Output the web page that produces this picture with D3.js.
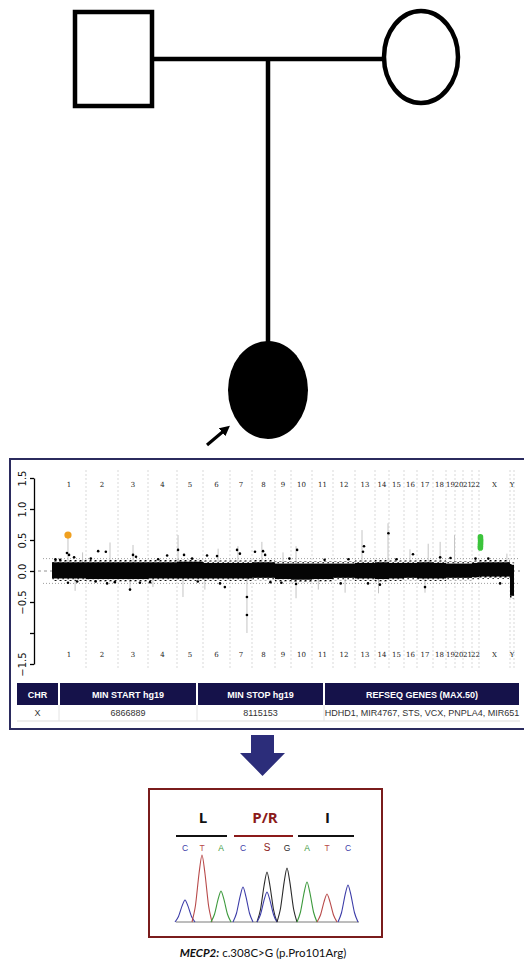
<!DOCTYPE html>
<html>
<head>
<meta charset="utf-8">
<script src="https://cdn.jsdelivr.net/npm/d3@7"></script>
<style>
  body { margin: 0; background: #fff; }
</style>
</head>
<body>
<div id="chart"></div>
<script>
// ---- CNV plot data ----
const chromNames = ["1","2","3","4","5","6","7","8","9","10","11","12","13","14","15","16","17","18","19","20","21","22","X","Y"];
// relative track width of each chromosome in the plot
const chromSpan = [34,32,30,29,26,27,22,23,16,21,21,22,20,14,15,13,16,13,9,8,9,7,31,4];
// dense probe band, upper / lower edge per chromosome (log2 ratio)
const bandHi = [0.14,0.14,0.14,0.14,0.15,0.13,0.13,0.14,0.12,0.12,0.12,0.12,0.13,0.14,0.13,0.13,0.14,0.13,0.12,0.12,0.12,0.13,0.14,0.10];
const bandLo = [-0.12,-0.13,-0.13,-0.12,-0.12,-0.12,-0.12,-0.11,-0.13,-0.14,-0.13,-0.11,-0.12,-0.13,-0.12,-0.11,-0.12,-0.12,-0.11,-0.11,-0.11,-0.10,-0.09,-0.40];
// single probes outside the band: chromosome, position in chromosome (0..1), value
const outliers = [
  {chr:"1", pos:0.24, v:0.18}, {chr:"1", pos:0.44, v:0.29}, {chr:"1", pos:0.50, v:0.26}, {chr:"1", pos:0.65, v:0.22},
  {chr:"1", pos:0.47, v:-0.19}, {chr:"1", pos:0.74, v:-0.17}, {chr:"1", pos:0.10, v:0.19},
  {chr:"2", pos:0.38, v:0.32}, {chr:"2", pos:0.62, v:0.31}, {chr:"2", pos:0.66, v:-0.20}, {chr:"2", pos:0.90, v:-0.18},
  {chr:"2", pos:0.15, v:0.20}, {chr:"2", pos:0.30, v:-0.17},
  {chr:"3", pos:0.50, v:0.26}, {chr:"3", pos:0.60, v:0.23}, {chr:"3", pos:0.40, v:-0.30}, {chr:"3", pos:0.73, v:-0.19},
  {chr:"4", pos:0.66, v:0.25}, {chr:"4", pos:0.07, v:-0.18}, {chr:"4", pos:0.35, v:0.19},
  {chr:"5", pos:0.04, v:0.34}, {chr:"5", pos:0.27, v:0.26}, {chr:"5", pos:0.58, v:0.20}, {chr:"5", pos:0.80, v:-0.17},
  {chr:"6", pos:0.15, v:0.25}, {chr:"6", pos:0.52, v:0.24}, {chr:"6", pos:0.63, v:-0.20}, {chr:"6", pos:0.81, v:-0.26},
  {chr:"7", pos:0.32, v:0.34}, {chr:"7", pos:0.45, v:0.28}, {chr:"7", pos:0.77, v:-0.42}, {chr:"7", pos:0.77, v:-0.71},
  {chr:"8", pos:0.13, v:0.31}, {chr:"8", pos:0.48, v:0.32}, {chr:"8", pos:0.57, v:0.26}, {chr:"8", pos:0.80, v:-0.18},
  {chr:"9", pos:0.90, v:0.20}, {chr:"9", pos:0.40, v:-0.19},
  {chr:"10", pos:0.29, v:0.34}, {chr:"10", pos:0.24, v:-0.21}, {chr:"11", pos:0.60, v:0.18},
  {chr:"12", pos:0.35, v:-0.20}, {chr:"12", pos:0.70, v:0.19},
  {chr:"13", pos:0.45, v:0.40}, {chr:"13", pos:0.40, v:0.31}, {chr:"13", pos:0.65, v:-0.20},
  {chr:"14", pos:0.96, v:0.61}, {chr:"14", pos:0.35, v:-0.22}, {chr:"15", pos:0.50, v:0.19},
  {chr:"16", pos:0.69, v:0.27}, {chr:"17", pos:0.50, v:-0.26}, {chr:"18", pos:0.55, v:0.22},
  {chr:"19", pos:0.50, v:0.21}, {chr:"22", pos:0.50, v:0.20},
  {chr:"X", pos:0.30, v:0.20}, {chr:"X", pos:0.68, v:-0.20}
];
// light grey spread bars: chromosome, position, low / high value
const spreadBars = [
  {chr:"1", pos:0.47, lo:0.12, hi:0.62}, {chr:"1", pos:0.68, lo:-0.32, hi:-0.10}, {chr:"1", pos:0.90, lo:0.10, hi:0.30},
  {chr:"2", pos:0.75, lo:0.10, hi:0.46}, {chr:"3", pos:0.50, lo:0.10, hi:0.42}, {chr:"3", pos:0.40, lo:-0.32, hi:-0.10},
  {chr:"4", pos:0.17, lo:-0.26, hi:-0.10}, {chr:"5", pos:0.04, lo:0.10, hi:0.58}, {chr:"5", pos:0.23, lo:-0.42, hi:-0.10},
  {chr:"6", pos:0.07, lo:-0.30, hi:-0.10}, {chr:"6", pos:0.56, lo:0.10, hi:0.36}, {chr:"7", pos:0.36, lo:0.10, hi:0.40},
  {chr:"7", pos:0.77, lo:-1.00, hi:-0.10}, {chr:"8", pos:0.43, lo:0.10, hi:0.47}, {chr:"9", pos:0.50, lo:0.10, hi:0.30},
  {chr:"10", pos:0.24, lo:0.10, hi:0.40}, {chr:"10", pos:0.24, lo:-0.44, hi:-0.10}, {chr:"11", pos:0.30, lo:-0.30, hi:-0.10},
  {chr:"12", pos:0.55, lo:-0.35, hi:-0.10}, {chr:"13", pos:0.35, lo:0.10, hi:0.66}, {chr:"14", pos:0.25, lo:-0.36, hi:-0.10},
  {chr:"14", pos:0.93, lo:0.10, hi:0.77}, {chr:"16", pos:0.46, lo:0.10, hi:0.35}, {chr:"17", pos:0.50, lo:-0.35, hi:-0.10},
  {chr:"17", pos:0.70, lo:0.10, hi:0.44}, {chr:"18", pos:0.55, lo:0.10, hi:0.47}, {chr:"19", pos:0.95, lo:0.10, hi:0.58},
  {chr:"X", pos:0.90, lo:0.10, hi:0.28}
];
const highlightLoss = {chr:"1", pos:0.47, v:0.58};         // orange call
const gainChr = "X";                                        // green call, Xp22.31
const gainPos = [0.044, 0.046, 0.048, 0.050, 0.052, 0.048, 0.046];
const gainVal = [0.37, 0.40, 0.43, 0.46, 0.49, 0.52, 0.55];
const yTicks = [-1.5, -1, -0.5, 0, 0.5, 1, 1.5];

// ---- table ----
const tableHeaders = ["CHR", "MIN START hg19", "MIN STOP hg19", "REFSEQ GENES (MAX.50)"];
const tableRow = ["X", "6866889", "8115153", "HDHD1, MIR4767, STS, VCX, PNPLA4, MIR651"];

// ---- Sanger trace ----
const codons = [
  {aa:"L", from:0, to:2, color:"#111"},
  {aa:"P/R", from:3, to:5, color:"#8b1a1a"},
  {aa:"I", from:6, to:8, color:"#111"}
];
const bases = ["C","T","A","C","S","G","A","T","C"];
const baseScan = [0, 17, 36, 58, 82, 102, 122, 142, 163];
const peaks = [
  {scan:0, base:"C", h:22}, {scan:17, base:"T", h:67}, {scan:36, base:"A", h:31},
  {scan:58, base:"C", h:35}, {scan:82, base:"G", h:50}, {scan:82, base:"C", h:30},
  {scan:102, base:"G", h:54}, {scan:122, base:"A", h:40}, {scan:142, base:"T", h:28},
  {scan:163, base:"C", h:37}
];
const baseColor = {C:"#3c3ca8", T:"#b84a4a", A:"#3d9a3d", G:"#2a2a2a", S:"#8b1a1a"};

const W = 524, H = 965;
const svg = d3.select("#chart").append("svg")
  .attr("width", W).attr("height", H)
  .style("font-family", "'Liberation Sans', Arial, sans-serif");

// ================= pedigree =================
const ped = svg.append("g").attr("stroke", "#000").attr("stroke-width", 4.5);
ped.append("line").attr("x1", 153).attr("y1", 59).attr("x2", 383).attr("y2", 59);
ped.append("line").attr("x1", 268).attr("y1", 59).attr("x2", 268).attr("y2", 343);
ped.append("rect").attr("x", 75).attr("y", 12).attr("width", 77).attr("height", 94).attr("fill", "#fff");
ped.append("ellipse").attr("cx", 421).attr("cy", 57).attr("rx", 37).attr("ry", 46).attr("fill", "#fff");
ped.append("ellipse").attr("cx", 268).attr("cy", 390).attr("rx", 40).attr("ry", 49).attr("fill", "#000").attr("stroke", "none");

svg.append("defs").append("marker")
  .attr("id", "ah").attr("viewBox", "0 0 10 10").attr("refX", 5).attr("refY", 5)
  .attr("markerWidth", 3.2).attr("markerHeight", 3.2).attr("orient", "auto")
  .append("path").attr("d", "M0,0L10,5L0,10z").attr("fill", "#000");
svg.append("line").attr("x1", 207).attr("y1", 445).attr("x2", 226).attr("y2", 429)
  .attr("stroke", "#000").attr("stroke-width", 3.2).attr("marker-end", "url(#ah)");

// ================= CNV panel =================
svg.append("rect").attr("x", 10).attr("y", 459).attr("width", 524).attr("height", 270)
  .attr("fill", "#fff").attr("stroke", "#2b2b5e").attr("stroke-width", 2);

const starts = [0, ...d3.cumsum(chromSpan)];
const x = d3.scaleLinear().domain([0, d3.sum(chromSpan)]).range([52, 514]);
const y = d3.scaleLinear().domain([-1.5, 1.5]).range([664, 478]);
const gx = (chr, pos) => { const i = chromNames.indexOf(chr); return x(starts[i] + pos * chromSpan[i]); };

const speck = svg.select("defs").append("pattern").attr("id", "speck")
  .attr("width", 5).attr("height", 4).attr("patternUnits", "userSpaceOnUse");
speck.append("rect").attr("x", 0).attr("y", 0).attr("width", 1.5).attr("height", 1.5).attr("fill", "#000");
speck.append("rect").attr("x", 2.5).attr("y", 2).attr("width", 1.3).attr("height", 1.3).attr("fill", "#111");
speck.append("rect").attr("x", 4).attr("y", 0.5).attr("width", 1).attr("height", 1).attr("fill", "#333");

const plot = svg.append("g");

// chromosome separators
plot.selectAll(".sep").data(starts.slice(1)).join("line")
  .attr("x1", d => x(d)).attr("x2", d => x(d)).attr("y1", 470).attr("y2", 668)
  .attr("stroke", "#cfcfcf").attr("stroke-width", 0.8).attr("stroke-dasharray", "2,2");

// reference lines
plot.selectAll(".ref").data([0.2, -0.2]).join("line")
  .attr("x1", 43).attr("x2", 518).attr("y1", d => y(d)).attr("y2", d => y(d))
  .attr("stroke", "#888").attr("stroke-width", 0.8).attr("stroke-dasharray", "1,2");
plot.append("line").attr("x1", 38).attr("x2", 520).attr("y1", y(0)).attr("y2", y(0))
  .attr("stroke", "#777").attr("stroke-width", 0.8).attr("stroke-dasharray", "3,3");

// spread bars
plot.selectAll(".bar").data(spreadBars).join("line")
  .attr("x1", d => gx(d.chr, d.pos)).attr("x2", d => gx(d.chr, d.pos))
  .attr("y1", d => y(d.lo)).attr("y2", d => y(d.hi))
  .attr("stroke", "#c4c4c4").attr("stroke-width", 1);

// probe band, speckled fringe then solid core
chromNames.forEach((c, i) => {
  const x0 = x(starts[i]), x1 = x(starts[i + 1]);
  plot.append("rect").attr("x", x0).attr("width", x1 - x0)
    .attr("y", y(bandHi[i] + 0.04)).attr("height", y(bandLo[i] - 0.04) - y(bandHi[i] + 0.04))
    .attr("fill", "url(#speck)");
  plot.append("rect").attr("x", x0).attr("width", x1 - x0)
    .attr("y", y(bandHi[i])).attr("height", y(bandLo[i]) - y(bandHi[i]))
    .attr("fill", "#050505");
});

plot.selectAll(".out").data(outliers).join("circle")
  .attr("cx", d => gx(d.chr, d.pos)).attr("cy", d => y(d.v)).attr("r", 1.3).attr("fill", "#000");

plot.append("circle").attr("cx", gx(highlightLoss.chr, highlightLoss.pos)).attr("cy", y(highlightLoss.v))
  .attr("r", 3.6).attr("fill", "#f0a020");
plot.selectAll(".gain").data(gainVal).join("circle")
  .attr("cx", (d, i) => gx(gainChr, gainPos[i])).attr("cy", d => y(d)).attr("r", 2.8).attr("fill", "#3cc43c");

// chromosome labels (top and bottom)
[487, 657].forEach(ty => {
  plot.selectAll(null).data(chromNames).join("text")
    .attr("x", (d, i) => x(starts[i] + chromSpan[i] / 2)).attr("y", ty)
    .attr("text-anchor", "middle").attr("font-family", "'DejaVu Serif', serif")
    .attr("font-size", 7).attr("fill", "#222").text(d => d);
});

// y axis
const yAxis = plot.append("g").attr("transform", "translate(34,0)")
  .call(d3.axisLeft(y).tickValues(yTicks).tickSize(4).tickSizeOuter(0)
    .tickFormat(d => d === -1 ? "" : d3.format(".1f")(d)));
yAxis.select(".domain").attr("stroke-width", 1.3);
yAxis.selectAll(".tick line").attr("stroke-width", 1.3);
yAxis.selectAll("text")
  .attr("x", 0).attr("dy", 0).attr("text-anchor", "middle")
  .attr("transform", "translate(-8,0) rotate(-90)")
  .attr("font-family", "'DejaVu Sans', sans-serif").attr("font-size", 10).attr("fill", "#111");

// table
const colEdges = [17, 59, 197, 324, 520];
const tbl = svg.append("g");
tableHeaders.forEach((h, i) => {
  const x0 = colEdges[i] + (i ? 1 : 0), x1 = colEdges[i + 1] - 1;
  tbl.append("rect").attr("x", x0).attr("y", 683).attr("width", x1 - x0).attr("height", 22).attr("fill", "#15124a");
  tbl.append("text").attr("x", (x0 + x1) / 2).attr("y", 697.5).attr("text-anchor", "middle")
    .attr("font-size", 9).attr("font-weight", "bold").attr("fill", "#fff").text(h);
  tbl.append("text").attr("x", (x0 + x1) / 2).attr("y", 716).attr("text-anchor", "middle")
    .attr("font-size", 9).attr("fill", "#333").text(tableRow[i]);
});
tbl.append("line").attr("x1", 17).attr("x2", 520).attr("y1", 721).attr("y2", 721).attr("stroke", "#ddd");
tableHeaders.slice(1).forEach((h, i) => {
  tbl.append("line").attr("x1", colEdges[i + 1]).attr("x2", colEdges[i + 1]).attr("y1", 705).attr("y2", 721).attr("stroke", "#e4e4e4");
});

// block arrow down
svg.append("path")
  .attr("d", "M251,735 L274,735 L274,753 L285,753 L262.5,776 L240,753 L251,753 Z")
  .attr("fill", "#2c2d7a");

// ================= Sanger chromatogram =================
svg.append("rect").attr("x", 149).attr("y", 789).attr("width", 233).attr("height", 148)
  .attr("fill", "#fff").attr("stroke", "#7a1c1c").attr("stroke-width", 2);

const sx = d3.scaleLinear().domain([0, 163]).range([185, 348]);
const sy = d3.scaleLinear().domain([0, 100]).range([922, 822]);

codons.forEach(c => {
  const a = sx(baseScan[c.from]) - 9, b = sx(baseScan[c.to]) + 6;
  svg.append("line").attr("x1", a).attr("x2", b).attr("y1", 836).attr("y2", 836)
    .attr("stroke", c.color).attr("stroke-width", 2.2);
  svg.append("text").attr("x", (sx(baseScan[c.from]) + sx(baseScan[c.to])) / 2).attr("y", 823)
    .attr("text-anchor", "middle").attr("font-family", "'Open Sans', sans-serif")
    .attr("font-size", 15).attr("font-weight", "bold").attr("fill", c.color).text(c.aa);
});

svg.selectAll(".base").data(bases).join("text")
  .attr("x", (d, i) => sx(baseScan[i])).attr("y", 851).attr("text-anchor", "middle")
  .attr("font-size", d => d === "S" ? 10 : 8.5).attr("fill", d => baseColor[d]).text(d => d);

svg.append("line").attr("x1", 176).attr("x2", 359).attr("y1", sy(0)).attr("y2", sy(0))
  .attr("stroke", "#7a7a7a").attr("stroke-width", 1);

// peak glyph shape (offsets in px, fraction of height)
const peakShape = [[-10, 0], [-6.5, 0.25], [-3, 0.72], [0, 1], [3, 0.72], [6.5, 0.25], [10, 0]];
const peakLine = d3.line().curve(d3.curveCardinal.tension(0.2));
svg.selectAll(".peak").data(peaks).join("path")
  .attr("d", d => peakLine(peakShape.map(([dx, f]) => [sx(d.scan) + dx, sy(d.h * f)])))
  .attr("fill", "none").attr("stroke", d => baseColor[d.base]).attr("stroke-width", 1.1);

// caption
const cap = svg.append("text").attr("x", 263).attr("y", 957).attr("text-anchor", "middle")
  .attr("font-family", "Lato, 'Open Sans', sans-serif").attr("font-size", 11.5).attr("fill", "#111");
cap.append("tspan").attr("font-weight", "bold").attr("font-style", "italic").text("MECP2:");
cap.append("tspan").text(" c.308C>G (p.Pro101Arg)");
</script>
</body>
</html>
